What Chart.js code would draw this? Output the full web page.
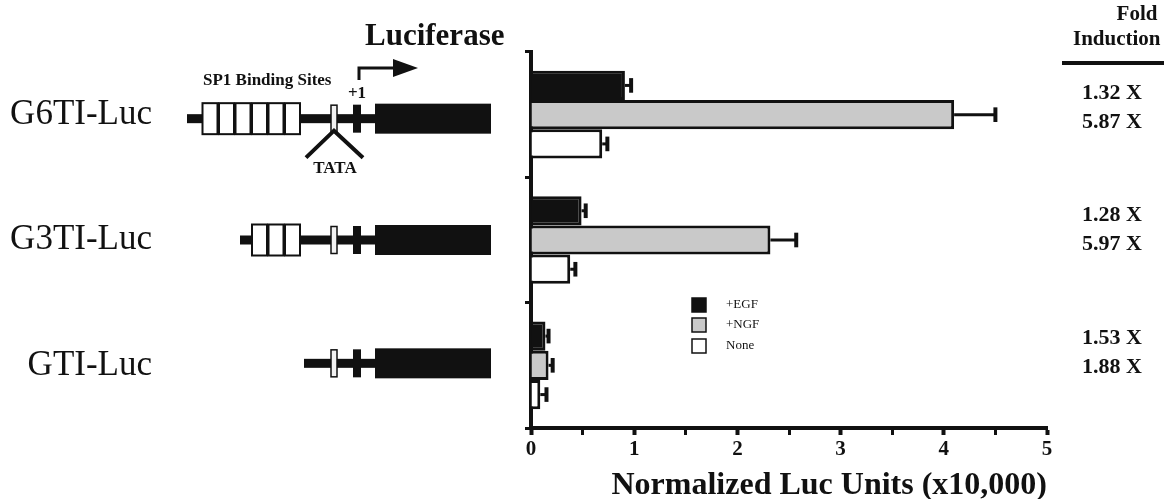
<!DOCTYPE html>
<html>
<head>
<meta charset="utf-8">
<script src="https://cdn.jsdelivr.net/npm/chart.js@4/dist/chart.umd.min.js"></script>
<style>
  html, body { margin: 0; padding: 0; background: #fff; }
</style>
</head>
<body>
<canvas id="c" width="1164" height="499"></canvas>
<script>
// constructs and values (Normalized Luc Units, x10,000)
const labels = ['G6TI-Luc', 'G3TI-Luc', 'GTI-Luc'];
const egf = [0.91, 0.49, 0.14];
const egfErr = [0.06, 0.04, 0.03];
const ngf = [4.1, 2.32, 0.17];
const ngfErr = [0.4, 0.25, 0.04];
const none = [0.69, 0.38, 0.09];
const noneErr = [0.05, 0.05, 0.06];
const foldInduction = [['1.32 X', '5.87 X'], ['1.28 X', '5.97 X'], ['1.53 X', '1.88 X']];
const sp1Sites = [6, 3, 0];

const ink = '#111';
Chart.defaults.font.family = '"Liberation Serif", serif';
Chart.defaults.color = ink;

// one-sided error bars at the end of each bar
const errorBars = {
  id: 'errorBars',
  afterDatasetsDraw(chart) {
    const ctx = chart.ctx, x = chart.scales.x;
    ctx.save();
    ctx.strokeStyle = ink;
    chart.data.datasets.forEach((ds, i) => {
      chart.getDatasetMeta(i).data.forEach((bar, j) => {
        const xe = x.getPixelForValue(ds.data[j] + ds.err[j]);
        const h = bar.height * 0.25;
        ctx.lineWidth = 3;
        ctx.beginPath();
        ctx.moveTo(bar.x, bar.y);
        ctx.lineTo(xe, bar.y);
        ctx.stroke();
        ctx.lineWidth = 4;
        ctx.beginPath();
        ctx.moveTo(xe, bar.y - h);
        ctx.lineTo(xe, bar.y + h);
        ctx.stroke();
      });
    });
    ctx.restore();
  }
};

// promoter diagrams, legend and fold induction column
const extras = {
  id: 'extras',
  afterDraw(chart) {
    const ctx = chart.ctx, y = chart.scales.y;
    const shift = [4, 0, -2];
    const starts = [187, 240, 304];
    ctx.save();
    labels.forEach((_, i) => {
      const cy = y.getPixelForValue(i) + shift[i];
      ctx.fillStyle = ink;
      ctx.fillRect(starts[i], cy - 4.5, 375 - starts[i], 9);
      const n = sp1Sites[i];
      ctx.lineWidth = 2;
      ctx.strokeStyle = ink;
      for (let k = 0; k < n; k++) {
        const bx = 300 - (n - k) * 16.5 + 1.5;
        ctx.fillStyle = '#fff';
        ctx.fillRect(bx, cy - 15.5, 15, 31);
        ctx.strokeRect(bx, cy - 15.5, 15, 31);
      }
      ctx.fillStyle = '#f2f2f2';
      ctx.fillRect(331, cy - 13.5, 6, 27);
      ctx.lineWidth = 1.5;
      ctx.strokeRect(331, cy - 13.5, 6, 27);
      ctx.fillStyle = ink;
      ctx.fillRect(353, cy - 14, 8, 28);
      ctx.fillRect(375, cy - 15, 116, 30);

      // fold induction
      ctx.font = 'bold 22px "Liberation Serif"';
      ctx.textAlign = 'center';
      ctx.textBaseline = 'middle';
      ctx.fillText(foldInduction[i][0], 1112, cy - 25);
      ctx.fillText(foldInduction[i][1], 1112, cy + 4);
    });

    // G6TI annotations
    const c0 = y.getPixelForValue(0) + shift[0];
    ctx.strokeStyle = ink;
    ctx.lineWidth = 4;
    ctx.beginPath();
    ctx.moveTo(306, c0 + 39);
    ctx.lineTo(334, c0 + 12);
    ctx.lineTo(363, c0 + 39);
    ctx.stroke();
    ctx.fillStyle = ink;
    ctx.textBaseline = 'middle';
    ctx.textAlign = 'center';
    ctx.font = 'bold 17px "Liberation Serif"';
    ctx.fillText('TATA', 335, c0 + 50);
    ctx.fillText('+1', 357, c0 - 25);
    ctx.textAlign = 'left';
    ctx.fillText('SP1 Binding Sites', 203, c0 - 38);
    // transcription start arrow
    ctx.lineWidth = 3;
    ctx.beginPath();
    ctx.moveTo(359, 80);
    ctx.lineTo(359, 68);
    ctx.lineTo(396, 68);
    ctx.stroke();
    ctx.beginPath();
    ctx.moveTo(393, 59);
    ctx.lineTo(418, 68);
    ctx.lineTo(393, 77);
    ctx.closePath();
    ctx.fill();
    ctx.font = 'bold 31px "Liberation Serif"';
    ctx.textBaseline = 'alphabetic';
    ctx.fillText('Luciferase', 365, 45);

    // fold induction header
    ctx.font = 'bold 21px "Liberation Serif"';
    ctx.textAlign = 'center';
    ctx.fillText('Fold', 1137, 20);
    ctx.textAlign = 'left';
    ctx.fillText('Induction', 1073, 45);
    ctx.fillRect(1062, 61, 102, 4);

    // legend
    const ly = [305, 325, 346];
    chart.data.datasets.forEach((ds, i) => {
      ctx.fillStyle = ds.backgroundColor;
      ctx.fillRect(692, ly[i] - 7, 14, 14);
      ctx.lineWidth = 1.5;
      ctx.strokeRect(692, ly[i] - 7, 14, 14);
      ctx.fillStyle = ink;
      ctx.font = '13px "Liberation Serif"';
      ctx.textBaseline = 'middle';
      ctx.fillText(ds.label, 726, ly[i]);
    });
    ctx.restore();
  }
};

const bar = (label, data, err, fill) => ({
  label, data, err,
  backgroundColor: fill,
  borderColor: ink,
  borderWidth: 3,
  borderSkipped: 'start',
  categoryPercentage: 0.7,
  barPercentage: 1.0
});

new Chart(document.getElementById('c'), {
  type: 'bar',
  data: {
    labels,
    datasets: [
      bar('+EGF', egf, egfErr, ink),
      bar('+NGF', ngf, ngfErr, '#c9c9c9'),
      bar('None', none, noneErr, '#fff')
    ]
  },
  options: {
    indexAxis: 'y',
    responsive: false,
    animation: false,
    layout: { padding: { top: 52, right: 117, left: 0, bottom: 0 } },
    plugins: { legend: false, tooltip: false },
    scales: {
      x: {
        type: 'linear',
        min: 0,
        max: 5,
        afterFit: s => { s.height = 71; },
        border: { color: ink, width: 4 },
        grid: {
          drawOnChartArea: false,
          color: ink,
          tickLength: 7,
          tickWidth: c => Number.isInteger(c.tick.value) ? 4 : 3
        },
        ticks: {
          stepSize: 0.5,
          autoSkip: false,
          maxRotation: 0,
          padding: 2,
          font: { size: 21, weight: 'bold' },
          callback: v => Number.isInteger(v) ? v : ''
        },
        title: {
          display: true,
          text: 'Normalized Luc Units (x10,000)',
          align: 'end',
          font: { size: 32, weight: 'bold', lineHeight: 1 },
          padding: { top: 0, bottom: -3 }
        }
      },
      // construct names, outermost on the left
      names: {
        type: 'category',
        position: 'left',
        weight: 1,
        offset: true,
        afterFit: s => { s.width = 157; },
        grid: { display: false, drawTicks: false, tickLength: 0 },
        border: { display: false },
        ticks: { padding: 5, font: { size: 35 } }
      },
      y: {
        type: 'category',
        position: 'left',
        weight: 0,
        offset: true,
        afterFit: s => { s.width = 374; },
        border: { color: ink, width: 4 },
        grid: {
          offset: true,
          drawOnChartArea: false,
          color: ink,
          tickLength: 6,
          tickWidth: 3
        },
        ticks: { display: false }
      }
    }
  },
  plugins: [errorBars, extras]
});
</script>
</body>
</html>
